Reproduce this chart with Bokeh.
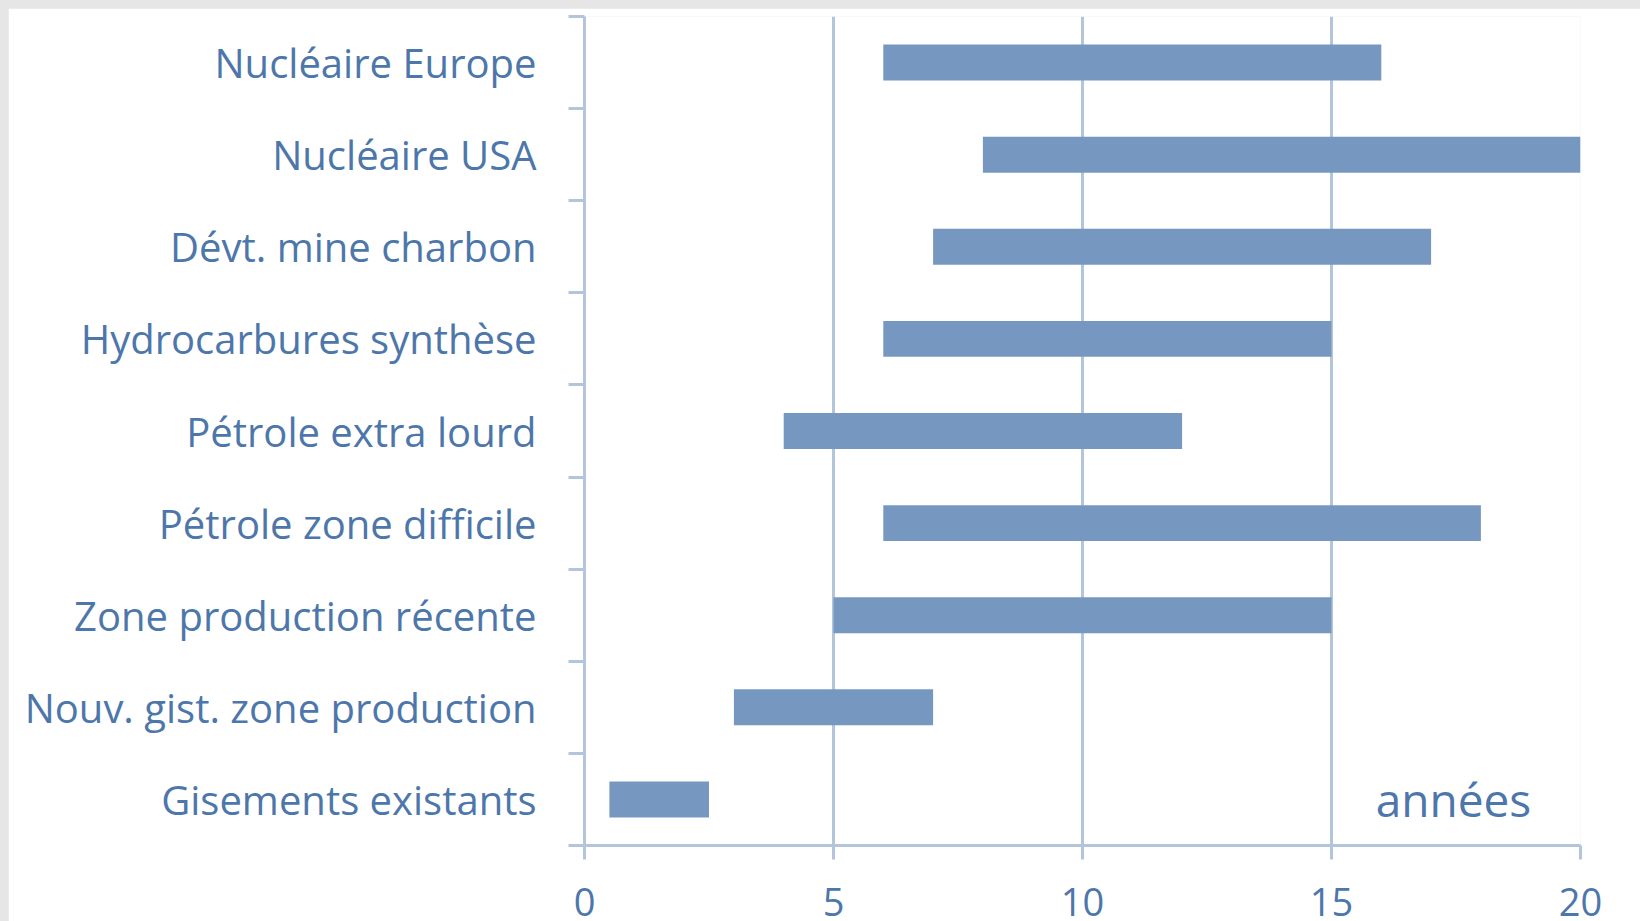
from bokeh.plotting import figure
from bokeh.models import Range1d, FixedTicker
from bokeh.core.properties import value
from bokeh.embed import file_html
from bokeh.resources import INLINE
import numpy as np

# Categories, bottom to top
categories = [
    "Gisements existants",
    "Nouv. gist. zone production",
    "Zone production récente",
    "Pétrole zone difficile",
    "Pétrole extra lourd",
    "Hydrocarbures synthèse",
    "Dévt. mine charbon",
    "Nucléaire USA",
    "Nucléaire Europe",
]
start_years = [0.5, 3, 5, 6, 4, 6, 7, 8, 6]
end_years = [2.5, 7, 15, 18, 12, 15, 17, 20, 16]
x_ticks = [0, 5, 10, 15, 20]
unit_label = "années"

BAR = "#7698c0"
LINE = "#b3c5db"
TXT = "#4d77aa"
FONT = "Open Sans"

n = len(categories)
centers = list(np.arange(n) + 0.5)
bounds = list(range(n + 1))

p = figure(
    width=1632, height=913,
    x_range=Range1d(0, 20), y_range=Range1d(0, n),
    output_backend="svg", toolbar_location=None,
    min_border_left=576, min_border_right=60,
    min_border_top=8, min_border_bottom=76,
)
p.outline_line_color = None
p.background_fill_color = "white"
p.border_fill_color = "white"

p.hbar(y=centers, left=start_years, right=end_years, height=0.39,
       fill_color=BAR, line_color=None)

p.text(x=[17.45], y=[centers[0]], text=[unit_label],
       text_font=value(FONT), text_font_size="46px", text_color=TXT,
       text_align="center", text_baseline="middle")

# x axis
xa = p.xaxis[0]
xa.ticker = FixedTicker(ticks=x_ticks, minor_ticks=[])
xa.axis_line_color = LINE
xa.axis_line_width = 3
xa.major_tick_line_color = LINE
xa.major_tick_line_width = 3
xa.major_tick_in = 0
xa.major_tick_out = 14
xa.minor_tick_line_color = None
xa.major_label_text_font = FONT
xa.major_label_text_font_size = "38px"
xa.major_label_text_color = TXT
xa.major_label_standoff = 28

# y axis
ya = p.yaxis[0]
ya.ticker = FixedTicker(ticks=centers, minor_ticks=bounds)
ya.major_label_overrides = {float(c): lab for c, lab in zip(centers, categories)}
ya.axis_line_color = LINE
ya.axis_line_width = 3
ya.major_tick_line_color = None
ya.major_tick_in = 0
ya.major_tick_out = 0
ya.minor_tick_line_color = LINE
ya.minor_tick_line_width = 3
ya.minor_tick_in = 0
ya.minor_tick_out = 16
ya.major_label_text_font = FONT
ya.major_label_text_font_size = "40px"
ya.major_label_text_color = TXT
ya.major_label_standoff = 32

p.xgrid.ticker = FixedTicker(ticks=x_ticks)
p.xgrid.grid_line_color = LINE
p.xgrid.grid_line_width = 3
p.ygrid.grid_line_color = None

html = file_html(p, INLINE)
html = html.replace(
    "</head>",
    "<style>html,body{background:#e6e6e6 !important;overflow:hidden !important}"
    "body{margin:8px 0 0 8px !important}</style></head>",
)
open("out.html", "w").write(html)
